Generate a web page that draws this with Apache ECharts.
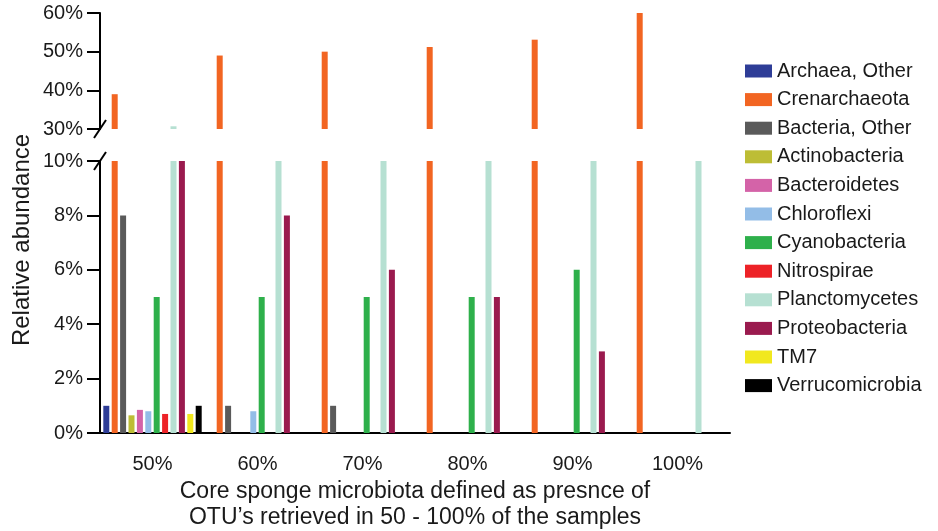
<!DOCTYPE html>
<html>
<head>
<meta charset="utf-8">
<style>
  html, body { margin: 0; padding: 0; background: #ffffff; }
  #chart { width: 938px; height: 531px; }
</style>
<script src="https://cdn.jsdelivr.net/npm/echarts@6/dist/echarts.min.js"></script>
</head>
<body>
<div id="chart"></div>
<script>
// ---- data ----
const categories = ['50%', '60%', '70%', '80%', '90%', '100%'];
const seriesNames = ['Archaea, Other', 'Crenarchaeota', 'Bacteria, Other', 'Actinobacteria',
  'Bacteroidetes', 'Chloroflexi', 'Cyanobacteria', 'Nitrospirae', 'Planctomycetes',
  'Proteobacteria', 'TM7', 'Verrucomicrobia'];
const archaeaOther   = [1.0, null, null, null, null, null];
const crenarchaeota  = [39, 49, 50, 51.2, 53.1, 60];
const bacteriaOther  = [8, 1, 1, null, null, null];
const actinobacteria = [0.65, null, null, null, null, null];
const bacteroidetes  = [0.85, null, null, null, null, null];
const chloroflexi    = [0.8, 0.8, null, null, null, null];
const cyanobacteria  = [5, 5, 5, 5, 6, null];
const nitrospirae    = [0.7, null, null, null, null, null];
const planctomycetes = [30.7, 20, 20, 20, 20, 20];
const proteobacteria = [20, 8, 6, 5, 3, null];
const tm7            = [0.7, null, null, null, null, null];
const verrucomicrobia= [1.0, null, null, null, null, null];
const upperTicks = [30, 60, 10];   // min, max, interval (upper panel)
const lowerTicks = [0, 10, 2];     // min, max, interval (lower panel)

const seriesValues = [archaeaOther, crenarchaeota, bacteriaOther, actinobacteria, bacteroidetes,
  chloroflexi, cyanobacteria, nitrospirae, planctomycetes, proteobacteria, tm7, verrucomicrobia];
const colors = ['#2E3D97', '#F26522', '#5A5A5A', '#BDBD35', '#D463A8', '#93BDE7',
  '#2EB04B', '#ED2227', '#B6E0D2', '#9A1A4E', '#F1E81E', '#000000'];

// ---- layout ----
const FONT = 'Liberation Sans, Arial, Helvetica, sans-serif';
const L = 100, R = 208;
const topGrid = { left: L, right: R, top: 13, height: 116, outerBoundsMode: 'none', containLabel: false };
const botGrid = { left: L, right: R, top: 161, height: 272, outerBoundsMode: 'none', containLabel: false };

const series = [];
[0, 1].forEach(gi => {
  seriesNames.forEach((name, i) => {
    series.push({
      name: name,
      type: 'bar',
      xAxisIndex: gi,
      yAxisIndex: gi,
      data: seriesValues[i],
      barWidth: 6,
      barGap: '40%',
      clip: true,
      itemStyle: { color: colors[i] },
      emphasis: { disabled: true }
    });
  });
});

const chart = echarts.init(document.getElementById('chart'), null, { renderer: 'canvas' });

const axisLineStyle = { color: '#000', width: 2 };
const yLabel = { fontFamily: FONT, fontSize: 20, color: '#1a1a1a', margin: 17, formatter: '{value}%' };

const option = {
  animation: false,
  backgroundColor: '#ffffff',
  color: colors,
  grid: [topGrid, botGrid],
  legend: {
    data: seriesNames,
    orient: 'vertical',
    left: 740,
    top: 56,
    itemWidth: 27,
    itemHeight: 13,
    itemGap: 8.6,
    icon: 'rect',
    selectedMode: false,
    textStyle: { fontFamily: FONT, fontSize: 20, color: '#1a1a1a', lineHeight: 20, padding: [0, 0, 0, 0] }
  },
  xAxis: [
    { type: 'category', gridIndex: 0, data: categories, show: false },
    {
      type: 'category', gridIndex: 1, data: categories,
      axisLine: { lineStyle: axisLineStyle },
      axisTick: { alignWithLabel: true, length: 12, lineStyle: { color: '#000', width: 2 } },
      axisLabel: { fontFamily: FONT, fontSize: 20, color: '#1a1a1a', margin: 21 },
      name: 'Core sponge microbiota defined as presnce of\nOTU\u2019s retrieved in 50 - 100% of the samples',
      nameLocation: 'middle',
      nameGap: 46,
      nameTextStyle: { fontFamily: FONT, fontSize: 23, color: '#1a1a1a', lineHeight: 26, verticalAlign: 'top' }
    }
  ],
  yAxis: [
    {
      type: 'value', gridIndex: 0, min: upperTicks[0], max: upperTicks[1], interval: upperTicks[2],
      axisLine: { show: true, lineStyle: axisLineStyle },
      axisTick: { show: true, length: 13, lineStyle: { color: '#000', width: 2 } },
      axisLabel: yLabel,
      splitLine: { show: false }
    },
    {
      type: 'value', gridIndex: 1, min: lowerTicks[0], max: lowerTicks[1], interval: lowerTicks[2],
      axisLine: { show: true, lineStyle: axisLineStyle },
      axisTick: { show: true, length: 13, lineStyle: { color: '#000', width: 2 } },
      axisLabel: yLabel,
      splitLine: { show: false }
    }
  ],
  graphic: [
    // break marks on the y axis
    { type: 'line', shape: { x1: L - 6, y1: topGrid.top + topGrid.height + 9, x2: L + 6, y2: topGrid.top + topGrid.height - 9 },
      style: { stroke: '#000', lineWidth: 2 } },
    { type: 'line', shape: { x1: L - 6, y1: botGrid.top + 9, x2: L + 6, y2: botGrid.top - 9 },
      style: { stroke: '#000', lineWidth: 2 } },
    // y axis title
    { type: 'text', x: 22, y: 240, rotation: Math.PI / 2,
      style: { text: 'Relative abundance', font: '24px ' + FONT, fill: '#1a1a1a', align: 'center', verticalAlign: 'middle' } }
  ],
  series: series
};
chart.setOption(option);
</script>
</body>
</html>
